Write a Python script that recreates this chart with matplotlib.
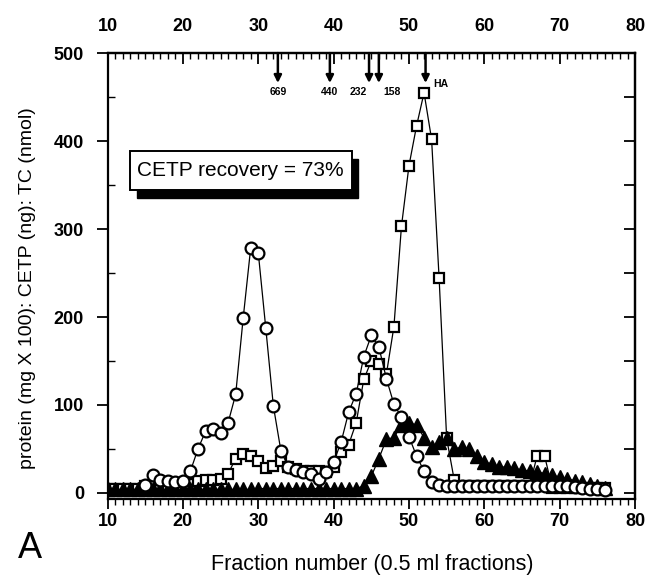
import numpy as np
import matplotlib
matplotlib.use("Agg")
import matplotlib.pyplot as plt
from matplotlib.patches import Rectangle

plt.rcParams['font.family'] = ['Liberation Sans', 'DejaVu Sans']

# open circles, fractions 15..76
circle_fracs = list(range(15, 77))
circles = [9, 20, 15, 14, 13,
           14, 25, 50, 70, 73, 68, 80, 112, 199, 279,
           273, 187, 99, 48, 29, 26, 24, 22, 16, 24,
           35, 58, 92, 113, 155, 179, 166, 130, 101, 86,
           64, 42, 25, 12, 9, 8, 8, 8, 8, 8,
           8, 8, 8, 8, 8, 8, 8, 8, 8, 8,
           8, 8, 7, 6, 5, 4, 3]

# open squares, fractions 10..76
square_fracs = list(range(10, 77))
squares = [4, 4, 4, 4, 4, 8, 8, 8, 8, 8,
           8, 10, 14, 15, 15, 16, 22, 39, 44, 42,
           36, 28, 31, 36, 30, 27, 25, 25, 25, 24,
           30, 46, 55, 80, 129, 150, 147, 135, 189, 303,
           372, 417, 455, 402, 244, 62, 15, 8, 8, 8,
           8, 8, 8, 8, 8, 8, 8, 42, 42, 6,
           6, 6, 6, 6, 6, 6, 6]

# filled triangles, fractions 10..76
triangle_fracs = list(range(10, 77))
triangles = [4, 4, 4, 4, 4, 4, 4, 4, 4, 4,
             4, 4, 4, 4, 4, 4, 4, 4, 4, 4,
             5, 5, 5, 5, 5, 5, 5, 5, 5, 5,
             5, 5, 5, 5, 8, 19, 39, 61, 63, 77,
             80, 77, 63, 52, 58, 62, 50, 52, 50, 42,
             35, 33, 30, 29, 28, 26, 25, 24, 22, 20,
             18, 16, 14, 12, 10, 8, 6]

# molecular weight standards on the top axis
std_labels = ['669', '440', '232', '158', 'HA']
std_pos = [32.6, 39.5, 44.7, 46.0, 52.2]

fig = plt.figure(figsize=(6.48, 5.77), dpi=100)
ax = fig.add_axes([0.166, 0.135, 0.814, 0.773])

ax.plot(square_fracs, squares, color='black', lw=0.9, marker='s', ms=6.5,
        mfc='white', mec='black', mew=1.6, zorder=2)
ax.plot(triangle_fracs, triangles, color='black', lw=0.9, marker='^', ms=10,
        mfc='black', mec='black', zorder=3)
ax.plot(circle_fracs, circles, color='black', lw=0.9, marker='o', ms=8.5,
        mfc='white', mec='black', mew=1.6, zorder=4)

ax.set_xlim(10, 80)
ax.set_ylim(-7, 500)

for s in ax.spines.values():
    s.set_linewidth(1.6)

ax.set_xticks(range(10, 81, 10))
ax.set_xticks(range(10, 81, 1), minor=True)
ax.set_yticks(range(0, 501, 100))
ax.set_yticks(range(50, 500, 100), minor=True)
ax.tick_params(axis='x', which='major', direction='out', length=7, width=1.3,
               pad=3, labelsize=13, top=False)
ax.tick_params(axis='x', which='minor', direction='out', length=4, width=1.0,
               top=False)
ax.tick_params(axis='y', which='major', direction='out', length=8, width=1.3,
               pad=9, labelsize=13, right=False)
ax.tick_params(axis='y', which='minor', direction='in', length=5, width=1.0,
               right=False)
for lab in ax.get_xticklabels() + ax.get_yticklabels():
    lab.set_fontweight('bold')

top = ax.secondary_xaxis('top')
top.set_xticks(range(10, 81, 10))
top.set_xticks(range(10, 81, 1), minor=True)
top.tick_params(which='major', direction='in', length=8, width=1.3, pad=13,
                labelsize=13)
top.tick_params(which='minor', direction='in', length=4, width=1.0)
top.spines['top'].set_linewidth(1.6)
for lab in top.get_xticklabels():
    lab.set_fontweight('bold')

right = ax.secondary_yaxis('right')
right.set_yticks(range(0, 501, 100))
right.set_yticks(range(50, 500, 100), minor=True)
right.tick_params(which='both', direction='in', length=8, width=1.3,
                  labelright=False)
right.spines['right'].set_linewidth(1.6)

# standard markers: arrows from the top axis
for lab, xp in zip(std_labels, std_pos):
    ax.annotate('', xy=(xp, 466), xytext=(xp, 500),
                arrowprops=dict(arrowstyle='-|>', color='black', lw=1.8,
                                mutation_scale=11, shrinkA=0, shrinkB=0))
    if lab == '232':
        ax.text(xp - 0.3, 461, lab, ha='right', va='top', fontsize=7.5, fontweight='bold')
    elif lab == '158':
        ax.text(xp + 0.6, 461, lab, ha='left', va='top', fontsize=7.5, fontweight='bold')
    elif lab == 'HA':
        ax.text(xp + 1.0, 470, lab, ha='left', va='top', fontsize=7.5, fontweight='bold')
    else:
        ax.text(xp, 461, lab, ha='center', va='top', fontsize=7.5, fontweight='bold')

# recovery box with drop shadow
bx, by, bw, bh = 0.0425, 0.693, 0.42, 0.088
ax.add_patch(Rectangle((bx + 0.013, by - 0.018), bw, bh, transform=ax.transAxes,
                       facecolor='black', edgecolor='black', zorder=5))
ax.add_patch(Rectangle((bx, by), bw, bh, transform=ax.transAxes,
                       facecolor='white', edgecolor='black', lw=1.4, zorder=6))
ax.text(bx + bw / 2, by + bh / 2, 'CETP recovery = 73%', transform=ax.transAxes,
        ha='center', va='center', fontsize=15, zorder=7)

fig.text(0.574, 0.022, 'Fraction number (0.5 ml fractions)', ha='center',
         va='center', fontsize=15.5)
fig.text(0.043, 0.501, 'protein (mg X 100): CETP (ng): TC (nmol)', ha='center',
         va='center', rotation=90, fontsize=14)
fig.text(0.046, 0.05, 'A', ha='center', va='center', fontsize=26)

fig.savefig('out.png', dpi=100)
